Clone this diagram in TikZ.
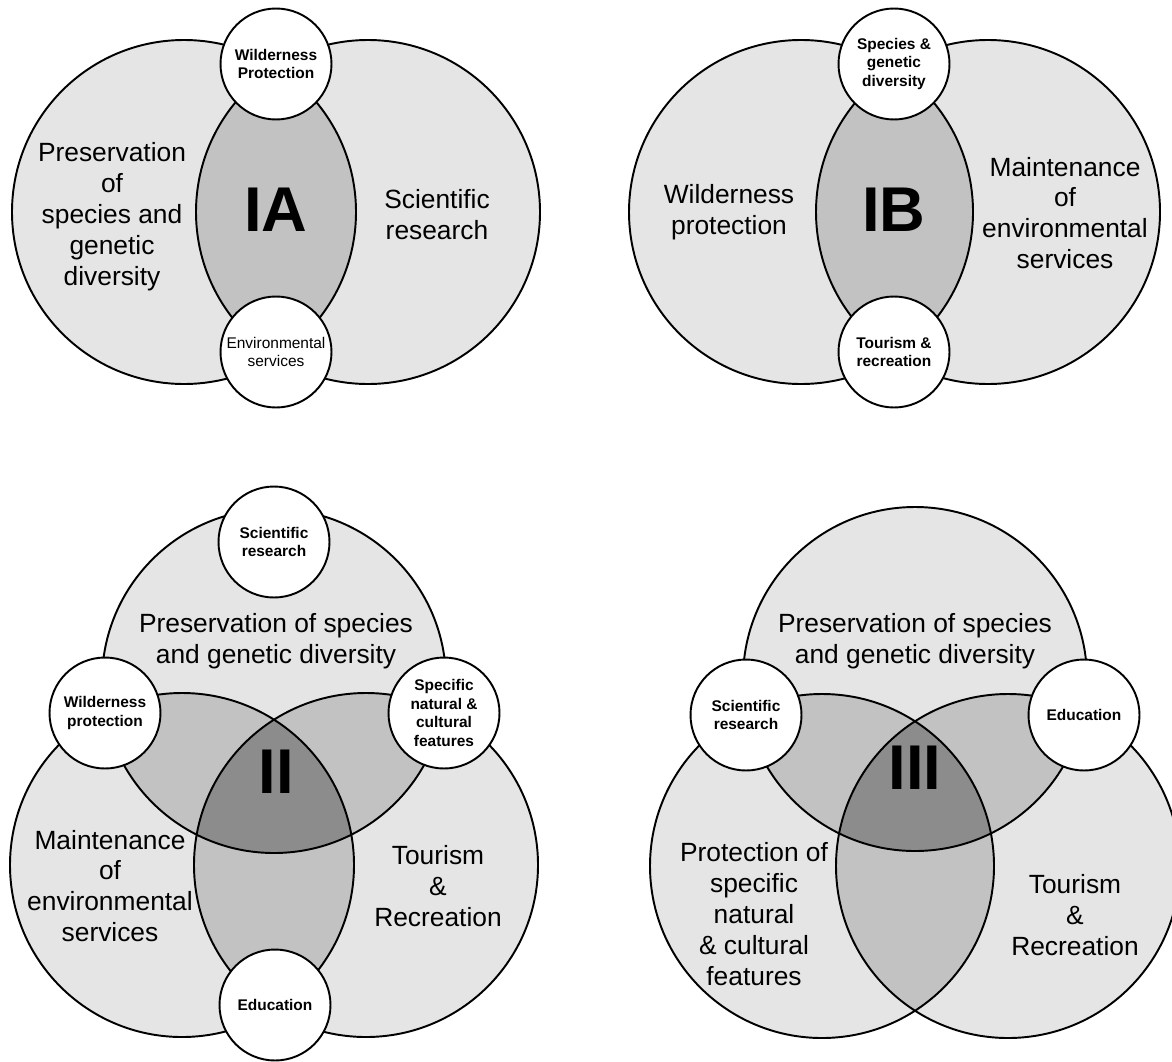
\documentclass[tikz,border=0pt]{standalone}
\usepackage{fontspec}
\setmainfont{Liberation Sans}
\usetikzlibrary{positioning}
\definecolor{zonegray}{gray}{0.90}
\definecolor{pairgray}{gray}{0.76}
\definecolor{coregray}{gray}{0.55}
\newcommand{\aimfont}{\fontsize{15}{17.6}\selectfont}
\newcommand{\spotfont}{\bfseries\fontsize{8.8}{10.6}\selectfont}
\newcommand{\spotthin}{\fontsize{8.8}{10.6}\selectfont}
\newcommand{\tagfont}{\bfseries\fontsize{36}{36}\selectfont}
\newcommand{\ringr}{172}
\tikzset{
  zone/.style={fill=zonegray},
  pairzone/.style={fill=pairgray},
  corezone/.style={fill=coregray},
  rim/.style={draw=black,line width=1.1pt},
  spot/.style={
      circle,
      draw=black,
      line width=1.1pt,
      fill=white,
      minimum size=2.22cm,
      inner sep=0pt,
      align=center,
      font=\spotfont
  },
  aim/.style={align=center,font=\aimfont},
  tag/.style={font=\tagfont,inner sep=0pt}
}

\begin{document}
\begin{tikzpicture}[x=0.02cm,y=-0.02cm]
    \useasboundingbox[fill=white] (0,0) rectangle (1172,1061);
    % IA
    \coordinate (ial) at (184,212);
    \coordinate (iar) at (368,212);
    \fill[zone] (ial) circle[radius=\ringr] (iar) circle[radius=\ringr];
    \begin{scope}
      \clip (ial) circle[radius=\ringr];
      \fill[pairzone] (iar) circle[radius=\ringr];
    \end{scope}
    \draw[rim] (ial) circle[radius=\ringr] (iar) circle[radius=\ringr];
    \node[tag] (ia) at (276,210) {IA};
    \node[aim] (ia-pres) at (112,217) {Preservation\\of\\species and\\genetic\\diversity};
    \node[aim] (ia-sci) at (437,215) {Scientific\\research};
    \node[spot] (ia-wild) at (276,64) {Wilderness\\Protection};
    \node[spot,font=\spotthin] (ia-env) at (276,352) {Environmental\\services};
    % IB
    \coordinate (ibl) at (801,212);
    \coordinate (ibr) at (988,212);
    \fill[zone] (ibl) circle[radius=\ringr] (ibr) circle[radius=\ringr];
    \begin{scope}
      \clip (ibl) circle[radius=\ringr];
      \fill[pairzone] (ibr) circle[radius=\ringr];
    \end{scope}
    \draw[rim] (ibl) circle[radius=\ringr] (ibr) circle[radius=\ringr];
    \node[tag] (ib) at (894,210) {IB};
    \node[aim] (ib-wild) at (729,212) {Wilderness\\protection};
    \node[aim] (ib-env) at (1065,213) {Maintenance\\of\\environmental\\services};
    \node[spot] (ib-spec) at (894,64) {Species \&\\genetic\\diversity};
    \node[spot] (ib-tour) at (894,352) {Tourism \&\\recreation};
    % II
    \coordinate (iit) at (274,681);
    \coordinate (iil) at (182,865);
    \coordinate (iir) at (366,865);
    \fill[zone] (iit) circle[radius=\ringr] (iil) circle[radius=\ringr] (iir) circle[radius=\ringr];
    \begin{scope}
      \clip (iit) circle[radius=\ringr];
      \fill[pairzone] (iil) circle[radius=\ringr] (iir) circle[radius=\ringr];
    \end{scope}
    \begin{scope}
      \clip (iil) circle[radius=\ringr];
      \fill[pairzone] (iir) circle[radius=\ringr];
    \end{scope}
    \begin{scope}
      \clip (iit) circle[radius=\ringr];
      \clip (iil) circle[radius=\ringr];
      \fill[corezone] (iir) circle[radius=\ringr];
    \end{scope}
    \draw[rim] (iit) circle[radius=\ringr] (iil) circle[radius=\ringr] (iir) circle[radius=\ringr];
    \node[tag] (ii) at (276,772) {II};
    \node[aim] (ii-pres) at (276,641) {Preservation of species\\and genetic diversity};
    \node[aim] (ii-env) at (110,886) {Maintenance\\of\\environmental\\services};
    \node[aim] (ii-tour) at (438,886) {Tourism\\\&\\Recreation};
    \node[spot] (ii-sci) at (274,542) {Scientific\\research};
    \node[spot] (ii-wild) at (105,713) {Wilderness\\protection};
    \node[spot] (ii-spec) at (444,713) {Specific\\natural \&\\cultural\\features};
    \node[spot] (ii-edu) at (275,1005) {Education};
    % III
    \coordinate (iiit) at (915,679);
    \coordinate (iiil) at (822,866);
    \coordinate (iiir) at (1008,866);
    \fill[zone] (iiit) circle[radius=\ringr] (iiil) circle[radius=\ringr] (iiir) circle[radius=\ringr];
    \begin{scope}
      \clip (iiit) circle[radius=\ringr];
      \fill[pairzone] (iiil) circle[radius=\ringr] (iiir) circle[radius=\ringr];
    \end{scope}
    \begin{scope}
      \clip (iiil) circle[radius=\ringr];
      \fill[pairzone] (iiir) circle[radius=\ringr];
    \end{scope}
    \begin{scope}
      \clip (iiit) circle[radius=\ringr];
      \clip (iiil) circle[radius=\ringr];
      \fill[corezone] (iiir) circle[radius=\ringr];
    \end{scope}
    \draw[rim] (iiit) circle[radius=\ringr] (iiil) circle[radius=\ringr] (iiir) circle[radius=\ringr];
    \node[tag] (iii) at (915,768) {III};
    \node[aim] (iii-pres) at (915,641) {Preservation of species\\and genetic diversity};
    \node[aim] (iii-feat) at (754,914) {Protection of\\specific\\natural\\\& cultural\\features};
    \node[aim] (iii-tour) at (1075,915) {Tourism\\\&\\Recreation};
    \node[spot] (iii-sci) at (746,715) {Scientific\\research};
    \node[spot] (iii-edu) at (1084,715) {Education};
\end{tikzpicture}
\end{document}
